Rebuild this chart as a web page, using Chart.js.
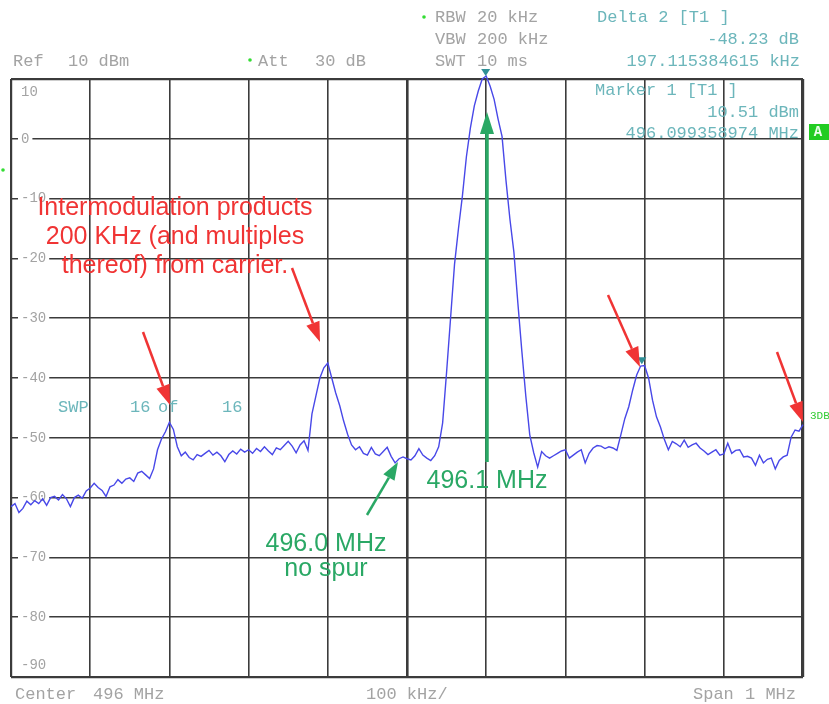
<!DOCTYPE html>
<html lang="en">
<head>
<meta charset="UTF-8">
<title>Spectrum 496 MHz</title>
<script src="https://cdn.jsdelivr.net/npm/chart.js"></script>
<style>
  html, body { margin: 0; padding: 0; background: #fff; }
  #wrap { width: 829px; height: 704px; }
</style>
</head>
<body>
<div id="wrap"><canvas id="spec" width="829" height="704"></canvas></div>
<script>
  // sweep: 201 points, 5 kHz apart, offset from 496 MHz centre (-500 .. +500 kHz)
  const sweepStartKHz = -500;
  const sweepStepKHz = 5;
  const sweepLevels = [
    -61.5, -61.0, -62.5, -61.8, -60.6, -61.2, -60.5, -61.0, -60.2, -61.3,
    -60.0, -59.8, -60.4, -59.5, -60.2, -61.5, -60.0, -59.6, -60.1, -58.9,
    -58.4, -57.6, -58.3, -58.8, -59.8, -58.2, -57.9, -57.0, -57.6, -56.9,
    -56.7, -57.3, -55.9, -55.6, -56.2, -56.8, -55.2, -52.0, -50.2, -49.0,
    -47.4, -48.6, -51.5, -53.0, -52.4, -53.3, -53.7, -52.8, -53.1, -52.6,
    -52.1, -52.9, -52.4, -53.0, -54.0, -52.8, -52.2, -52.7, -51.9, -52.4,
    -52.0, -52.6, -51.8, -52.3, -51.5, -52.2, -52.8, -51.7, -52.0, -51.3,
    -50.6, -51.4, -52.5, -51.2, -50.5, -52.1, -46.0, -43.0, -40.0, -38.3,
    -37.5, -40.0, -42.5, -44.6, -47.2, -49.4, -51.2, -52.0, -51.5, -52.6,
    -52.9, -51.6, -52.7, -53.0, -52.3, -51.6, -53.1, -54.2, -53.5, -53.2,
    -53.5, -53.7, -53.0, -51.8, -52.9, -53.4, -53.8, -53.0, -51.5, -47.5,
    -39.0, -30.0, -21.0, -15.0, -9.5, -3.0, 1.8, 5.5, 8.0, 10.0,
    10.5, 8.8, 6.6, 3.3, 0.4, -7.0, -13.5, -19.0, -27.5, -35.5,
    -43.0, -49.5, -52.5, -54.9, -52.3, -53.0, -53.4, -53.0, -52.6, -52.2,
    -52.0, -53.4, -52.9, -52.4, -52.0, -54.2, -52.6, -51.7, -51.3, -51.4,
    -51.8, -51.5, -51.7, -52.1, -49.5, -46.8, -44.8, -42.0, -39.5, -38.0,
    -37.9, -40.0, -43.7, -46.5, -48.2, -50.3, -52.0, -50.6, -51.0, -51.5,
    -50.4, -51.6, -51.2, -50.9, -51.7, -52.2, -52.8, -52.4, -52.0, -52.9,
    -52.7, -50.9, -52.6, -52.1, -52.0, -53.2, -53.1, -53.4, -54.6, -52.9,
    -54.2, -53.6, -53.4, -55.2, -53.8, -53.2, -52.9, -49.9, -48.7, -48.9,
    -47.8
  ];
  const yTickValues = [10, 0, -10, -20, -30, -40, -50, -60, -70, -80, -90];
  const yTickLabels = ['10', '0', '-10', '-20', '-30', '-40', '-50', '-60', '-70', '-80', '-90'];
  const markerOffsetsKHz = [99.358974, 296.474359];
  const markerLevels = [10.51, -37.72];

  const MONO = '"Liberation Mono", "DejaVu Sans Mono", monospace';
  const SANS = '"Liberation Sans", Arial, sans-serif';
  const GRAY = '#a3a3a3';
  const TEAL = '#6cb6bb';
  const RED = '#f03434';
  const GREEN = '#2aa865';

  function txt(c, s, x, y, color, font, align) {
    c.fillStyle = color;
    c.font = font;
    c.textAlign = align || 'left';
    c.textBaseline = 'middle';
    c.fillText(s, x, y);
  }

  function arrow(c, x1, y1, x2, y2, color, w, headLen, headW) {
    const a = Math.atan2(y2 - y1, x2 - x1);
    const bx = x2 - headLen * Math.cos(a), by = y2 - headLen * Math.sin(a);
    c.strokeStyle = color;
    c.fillStyle = color;
    c.lineWidth = w;
    c.beginPath();
    c.moveTo(x1, y1);
    c.lineTo(bx, by);
    c.stroke();
    c.beginPath();
    c.moveTo(x2, y2);
    c.lineTo(bx + headW / 2 * Math.sin(a), by - headW / 2 * Math.cos(a));
    c.lineTo(bx - headW / 2 * Math.sin(a), by + headW / 2 * Math.cos(a));
    c.closePath();
    c.fill();
  }

  // instrument readouts, level labels and SWP line drawn under the trace
  const screenText = {
    id: 'screenText',
    beforeDatasetsDraw(chart) {
      const c = chart.ctx;
      const ys = chart.scales.y;
      const f = '17px ' + MONO;
      c.save();
      txt(c, 'Ref', 13, 61, GRAY, f);
      txt(c, '10 dBm', 68, 61, GRAY, f);
      txt(c, 'Att', 258, 61, GRAY, f);
      txt(c, '30 dB', 315, 61, GRAY, f);
      txt(c, 'RBW', 435, 17, GRAY, f);
      txt(c, '20 kHz', 477, 17, GRAY, f);
      txt(c, 'VBW', 435, 39, GRAY, f);
      txt(c, '200 kHz', 477, 39, GRAY, f);
      txt(c, 'SWT', 435, 61, GRAY, f);
      txt(c, '10 ms', 477, 61, GRAY, f);
      txt(c, 'Delta 2 [T1 ]', 597, 17, TEAL, f);
      txt(c, '-48.23 dB', 799, 39, TEAL, f, 'right');
      txt(c, '197.115384615 kHz', 800, 61, TEAL, f, 'right');
      txt(c, 'Marker 1 [T1 ]', 595, 90, TEAL, f);
      txt(c, '10.51 dBm', 799, 112, TEAL, f, 'right');
      txt(c, '496.099358974 MHz', 799, 133, TEAL, f, 'right');
      txt(c, 'Center', 15, 694, GRAY, f);
      txt(c, '496 MHz', 93, 694, GRAY, f);
      txt(c, '100 kHz/', 366, 694, GRAY, f);
      txt(c, 'Span', 693, 694, GRAY, f);
      txt(c, '1 MHz', 745, 694, GRAY, f);
      txt(c, 'SWP', 58, 407, TEAL, f);
      txt(c, '16', 130, 407, TEAL, f);
      txt(c, 'of', 158, 407, TEAL, f);
      txt(c, '16', 222, 407, TEAL, f);

      // green status dots
      c.fillStyle = '#33dd33';
      [[250, 60], [424, 17], [3, 170]].forEach(p => {
        c.beginPath(); c.arc(p[0], p[1], 1.8, 0, Math.PI * 2); c.fill();
      });
      c.fillStyle = '#22cc22';
      c.fillRect(809, 124, 20, 16);
      txt(c, 'A', 818, 132, '#eaffea', 'bold 14px ' + MONO, 'center');
      txt(c, '3DB', 810, 416, '#33cc33', '11px ' + MONO);

      // level labels cut into the grid lines
      const lf = '14px ' + MONO;
      c.font = lf;
      yTickValues.forEach((v, i) => {
        let y = ys.getPixelForValue(v);
        const s = yTickLabels[i];
        if (i === 0) y += 13;
        else if (i === yTickValues.length - 1) y -= 12;
        else {
          const w = c.measureText(s).width;
          c.fillStyle = '#fff';
          c.fillRect(18, y - 3, w + 6, 6);
        }
        txt(c, s, 21, y, GRAY, lf);
      });
      c.restore();
    },
    afterDatasetsDraw(chart) {
      const c = chart.ctx;
      const xs = chart.scales.x, ys = chart.scales.y;
      c.save();
      // markers
      c.fillStyle = '#2f8f96';
      markerOffsetsKHz.forEach((m, i) => {
        const px = xs.getPixelForValue(m), py = ys.getPixelForValue(markerLevels[i]);
        c.beginPath();
        c.moveTo(px - 4.5, py - 7);
        c.lineTo(px + 4.5, py - 7);
        c.lineTo(px, py);
        c.closePath();
        c.fill();
      });

      const rf = '25px ' + SANS;
      c.fillStyle = RED;
      c.font = rf;
      c.textAlign = 'center';
      c.textBaseline = 'alphabetic';
      c.fillText('Intermodulation products', 175, 215);
      c.fillText('200 KHz (and multiples', 175, 244);
      c.fillText('thereof) from carrier.', 175, 273);
      arrow(c, 143, 332, 170, 405, RED, 2.5, 20, 14);
      arrow(c, 292, 268, 320, 342, RED, 2.5, 20, 14);
      arrow(c, 608, 295, 640, 367, RED, 2.5, 20, 14);
      arrow(c, 777, 352, 803, 422, RED, 2.5, 20, 14);

      c.fillStyle = GREEN;
      c.fillText('496.1 MHz', 487, 488);
      c.fillText('496.0 MHz', 326, 551);
      c.fillText('no spur', 326, 576);
      arrow(c, 487, 462, 487, 112, GREEN, 3.5, 22, 14);
      arrow(c, 367, 515, 398, 462, GREEN, 2.5, 18, 13);
      c.restore();
    }
  };

  const gridColor = '#3b3b3b';

  new Chart(document.getElementById('spec').getContext('2d'), {
    type: 'line',
    data: {
      datasets: [{
        data: sweepLevels.map((v, i) => ({ x: sweepStartKHz + i * sweepStepKHz, y: v })),
        borderColor: '#4848e8',
        borderWidth: 1.4,
        pointRadius: 0,
        tension: 0,
        clip: false
      }]
    },
    options: {
      responsive: false,
      animation: false,
      layout: { padding: { left: 11, top: 79, right: 26, bottom: 27 } },
      plugins: { legend: { display: false }, tooltip: { enabled: false } },
      scales: {
        x: {
          type: 'linear', min: -500, max: 500,
          ticks: { display: false, stepSize: 100 },
          border: { display: false },
          grid: {
            color: gridColor, drawTicks: false,
            lineWidth: c => {
              const v = c.tick ? c.tick.value : 0;
              if (v === 0) return 2.6;
              if (v === 500) return 3.2;
              if (v === -500) return 2.2;
              return 1.6;
            }
          }
        },
        y: {
          min: -90, max: 10,
          ticks: { display: false, stepSize: 10 },
          border: { display: false },
          grid: {
            color: gridColor, drawTicks: false,
            lineWidth: c => {
              const v = c.tick ? c.tick.value : 0;
              return (v === 10 || v === -90) ? 2.2 : 1.6;
            }
          }
        }
      }
    },
    plugins: [screenText]
  });
</script>
</body>
</html>
